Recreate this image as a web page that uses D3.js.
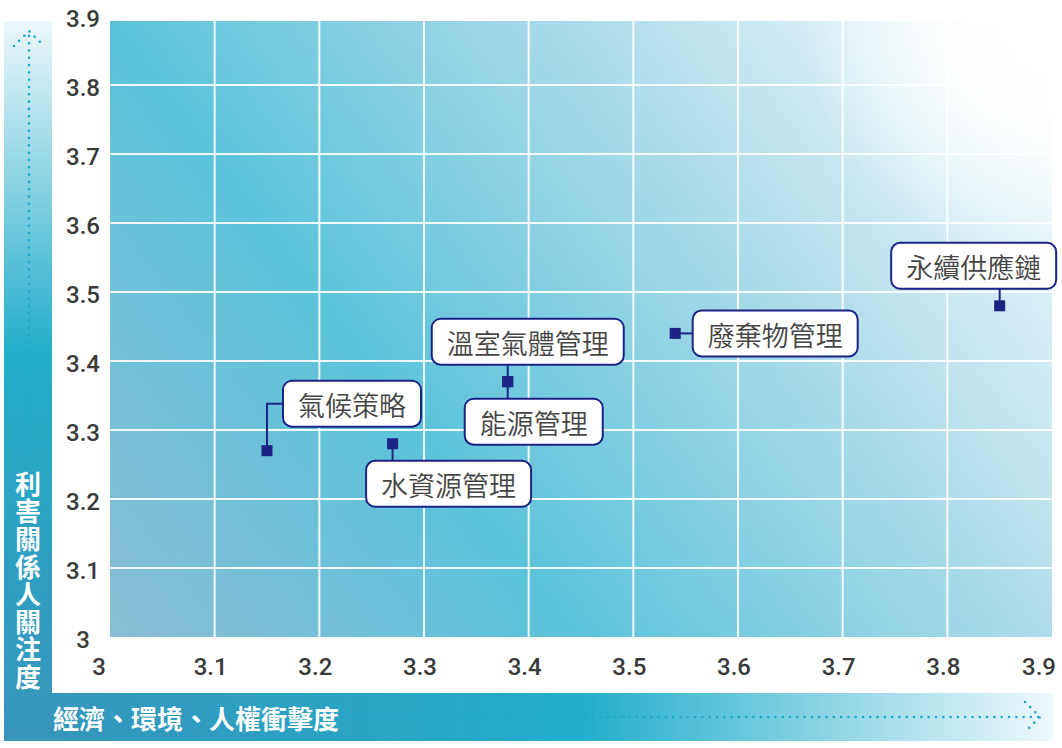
<!DOCTYPE html>
<html>
<head>
<meta charset="utf-8">
<script src="https://cdn.jsdelivr.net/npm/d3@7"></script>
<style>
  body { margin: 0; background: #fff; }
</style>
</head>
<body>
<div id="chart"></div>
<script>
// materiality matrix

const topics  = ["氣候策略", "水資源管理", "溫室氣體管理", "能源管理", "廢棄物管理", "永續供應鏈"];
const impact  = [3.15, 3.27, 3.38, 3.38, 3.54, 3.85];   // x: 經濟、環境、人權衝擊度
const concern = [3.27, 3.28, 3.37, 3.37, 3.44, 3.48];   // y: 利害關係人關注度
const xTicks  = [3, 3.1, 3.2, 3.3, 3.4, 3.5, 3.6, 3.7, 3.8, 3.9];
const yTicks  = [3, 3.1, 3.2, 3.3, 3.4, 3.5, 3.6, 3.7, 3.8, 3.9];
const xTitle  = "經濟、環境、人權衝擊度";
const yTitle  = "利害關係人關注度";

// where each callout box sits, relative to its marker (px)
const labelOffset = {
    "氣候策略":   [85, -47],
    "水資源管理":  [56, 40],
    "溫室氣體管理": [20, -40],
    "能源管理":   [26, 40],
    "廢棄物管理":  [100, 0],
    "永續供應鏈":  [-26, -40]
};

const W = 1062, H = 748;
const plot = { left: 110, right: 1052, top: 21, bottom: 637 };

const svg = d3.select("#chart")
    .append("svg")
    .attr("width", W)
    .attr("height", H);

const x = d3.scaleLinear().domain([3, 3.9]).range([plot.left, plot.right]);
const y = d3.scaleLinear().domain([3, 3.9]).range([plot.bottom, 16]);

const defs = svg.append("defs");

// plot background: diagonal band, fading to white in the top right
const dx = 0.798, dy = -0.602;           // direction across the band
const ox = plot.left + 5, oy = plot.top + 9;
const bg = defs.append("linearGradient")
    .attr("id", "bg")
    .attr("gradientUnits", "userSpaceOnUse")
    .attr("x1", ox - 369 * dx).attr("y1", oy - 369 * dy)
    .attr("x2", ox + 753 * dx).attr("y2", oy + 753 * dy);
[[0, "#89bdd5"], [0.33, "#5bc3da"], [0.67, "#afdcea"], [0.86, "#dbf0f6"], [1, "#f6fbfd"]]
    .forEach(s => bg.append("stop").attr("offset", s[0]).attr("stop-color", s[1]));

const corner = defs.append("radialGradient")
    .attr("id", "corner")
    .attr("gradientUnits", "userSpaceOnUse")
    .attr("cx", plot.right).attr("cy", plot.top).attr("r", 250);
[[0, 1], [0.45, 0.85], [1, 0]]
    .forEach(s => corner.append("stop").attr("offset", s[0])
        .attr("stop-color", "#fff").attr("stop-opacity", s[1]));

const yBar = defs.append("linearGradient")
    .attr("id", "ybar").attr("x1", 0).attr("y1", 0).attr("x2", 0).attr("y2", 1);
[[0, "#ecf7fa"], [0.46, "#22adca"], [1, "#3895bb"]]
    .forEach(s => yBar.append("stop").attr("offset", s[0]).attr("stop-color", s[1]));

const xBar = defs.append("linearGradient")
    .attr("id", "xbar").attr("x1", 0).attr("y1", 0).attr("x2", 1).attr("y2", 0);
[[0, "#3596bc"], [0.53, "#22aecb"], [1, "#eef8fb"]]
    .forEach(s => xBar.append("stop").attr("offset", s[0]).attr("stop-color", s[1]));

// Background
svg.append("rect")
    .attr("x", plot.left).attr("y", plot.top)
    .attr("width", plot.right - plot.left)
    .attr("height", plot.bottom - plot.top)
    .attr("fill", "url(#bg)");

svg.append("rect")
    .attr("x", plot.left).attr("y", plot.top)
    .attr("width", plot.right - plot.left)
    .attr("height", plot.bottom - plot.top)
    .attr("fill", "url(#corner)");

// Grid
svg.append("g").selectAll("line")
    .data(xTicks.slice(1, -1))
    .join("line")
    .attr("x1", d => x(d)).attr("x2", d => x(d))
    .attr("y1", plot.top).attr("y2", plot.bottom)
    .attr("stroke", "#fff").attr("stroke-width", 2).attr("stroke-opacity", 0.9);

svg.append("g").selectAll("line")
    .data(yTicks.slice(1, -1))
    .join("line")
    .attr("y1", d => y(d)).attr("y2", d => y(d))
    .attr("x1", plot.left).attr("x2", plot.right)
    .attr("stroke", "#fff").attr("stroke-width", 2).attr("stroke-opacity", 0.9);

// Tick labels
const tickFont = "Roboto, 'Noto Sans', sans-serif";

svg.append("g").selectAll("text")
    .data(yTicks)
    .join("text")
    .attr("x", 83)
    .attr("y", d => y(d) + 3)
    .attr("text-anchor", "middle")
    .attr("dominant-baseline", "central")
    .attr("font-family", tickFont)
    .attr("font-size", "24px")
    .attr("font-weight", 500)
    .attr("fill", "#3a3a3a")
    .text(d => d);

svg.append("g").selectAll("text")
    .data(xTicks)
    .join("text")
    .attr("x", (d, i) => x(d) + (i === 0 ? -11 : i === xTicks.length - 1 ? -13 : -4))
    .attr("y", 667)
    .attr("text-anchor", "middle")
    .attr("dominant-baseline", "central")
    .attr("font-family", tickFont)
    .attr("font-size", "24px")
    .attr("font-weight", 500)
    .attr("fill", "#3a3a3a")
    .text(d => d);

// Axis title bars
svg.append("rect")
    .attr("x", 4).attr("y", plot.top)
    .attr("width", 48).attr("height", 720)
    .attr("fill", "url(#ybar)");

svg.append("rect")
    .attr("x", 52).attr("y", 693)
    .attr("width", plot.right + 1 - 52).attr("height", 48)
    .attr("fill", "url(#xbar)");

const cjk = "'Noto Sans CJK TC', 'Noto Sans CJK SC', sans-serif";

svg.append("text")
    .attr("x", 28)
    .attr("y", 471)
    .style("writing-mode", "vertical-rl")
    .style("letter-spacing", "1.6px")
    .attr("font-family", cjk)
    .attr("font-size", "26px")
    .attr("font-weight", 700)
    .attr("fill", "#fff")
    .text(yTitle);

svg.append("text")
    .attr("x", 53)
    .attr("y", 717)
    .attr("dominant-baseline", "central")
    .attr("font-family", cjk)
    .attr("font-size", "26px")
    .attr("font-weight", 700)
    .attr("fill", "#fff")
    .text(xTitle);

// dotted arrows
const dotted = g => g
    .attr("fill", "none")
    .attr("stroke", "#1ba8d0")
    .attr("stroke-width", 2.6)
    .attr("stroke-linecap", "round")
    .attr("stroke-dasharray", "0 7.3");

svg.append("path").attr("d", "M29,452 V31").call(dotted);
svg.append("path").attr("d", "M14,46 L29,31 L44,46").call(dotted);
svg.append("path").attr("d", "M352,717 H1040").call(dotted);
svg.append("path").attr("d", "M1025,702 L1040,717 L1025,732").call(dotted);

// Points + callouts
const navy = "#1b2384";
const pts = topics.map((t, i) => ({ topic: t, mx: x(impact[i]), my: y(concern[i]) }));

const leaders = svg.append("g");
const markers = svg.append("g");
const callouts = svg.append("g");

const boxH = 46;

pts.forEach(p => {
    const [ox, oy] = labelOffset[p.topic];
    const cx = p.mx + ox, cy = p.my + oy;

    const g = callouts.append("g");
    const rect = g.append("rect");
    const txt = g.append("text")
        .attr("x", cx)
        .attr("y", cy + 1)
        .attr("text-anchor", "middle")
        .attr("dominant-baseline", "central")
        .attr("font-family", cjk)
        .attr("font-size", "27px")
        .attr("font-weight", 350)
        .attr("fill", "#454545")
        .text(p.topic);

    const w = txt.node().getComputedTextLength() + 30;
    rect.attr("x", cx - w / 2).attr("y", cy - boxH / 2)
        .attr("width", w).attr("height", boxH)
        .attr("rx", 9)
        .attr("fill", "#fff")
        .attr("stroke", navy)
        .attr("stroke-width", 2);

    let d;
    if (Math.abs(ox) < w / 2) {
        d = `M${p.mx},${p.my} V${oy < 0 ? cy + boxH / 2 : cy - boxH / 2}`;
    } else {
        d = `M${p.mx},${p.my} V${cy} H${ox > 0 ? cx - w / 2 : cx + w / 2}`;
    }
    leaders.append("path")
        .attr("d", d)
        .attr("fill", "none")
        .attr("stroke", navy)
        .attr("stroke-width", 2);
});

markers.selectAll("rect")
    .data(pts)
    .join("rect")
    .attr("x", d => d.mx - 5.5)
    .attr("y", d => d.my - 5.5)
    .attr("width", 11)
    .attr("height", 11)
    .attr("fill", navy);
</script>
</body>
</html>
